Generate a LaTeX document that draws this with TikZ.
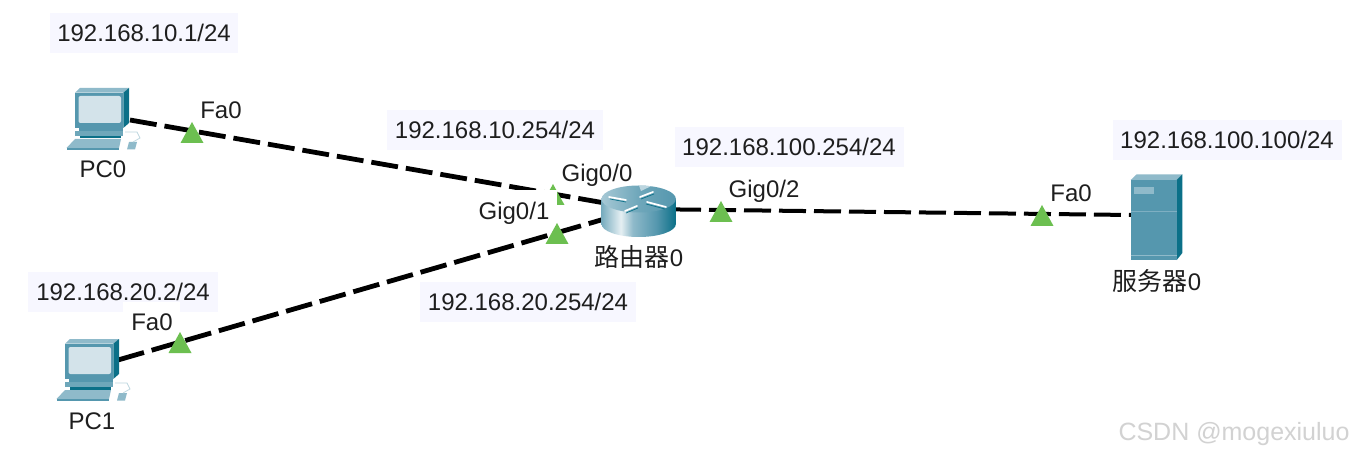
\documentclass[tikz,border=0pt]{standalone}
\usepackage{fontspec}
\setmainfont{Liberation Sans}
\newfontfamily\cjk{Noto Sans CJK SC}
\definecolor{ipbg}{HTML}{F7F7FF}
\definecolor{portgreen}{HTML}{6CBF50}
\definecolor{devfront}{HTML}{5597AE}
\definecolor{devtop}{HTML}{8FBACA}
\definecolor{devside}{HTML}{0B7088}
\definecolor{screenc}{HTML}{D3E3EA}
\definecolor{labeltext}{HTML}{1E1E1E}
\definecolor{wm}{HTML}{D2D2D2}
\pgfdeclarehorizontalshading{routerbody}{100bp}{color(0bp)=(devfront!80!white); color(25bp)=(devfront!80!white); color(38bp)=(white!85!devfront); color(46bp)=(devtop); color(62bp)=(devfront); color(75bp)=(devside); color(100bp)=(devside)}
\pgfdeclarehorizontalshading{routertop}{100bp}{color(0bp)=(devtop); color(25bp)=(devtop!80!white); color(50bp)=(devfront!85!white); color(75bp)=(devfront); color(100bp)=(devfront)}
\tikzset{
  x=1pt,y=-1pt,
  every node/.style={font=\fontsize{24}{28}\selectfont,text=labeltext,inner sep=0pt},
  device/.style={minimum width=#1,minimum height=60},
  iplabel/.style={fill=ipbg,minimum height=40,text height=17pt,text depth=0pt},
  txt/.style={anchor=base},
  whitebox/.style={fill=white},
  link/.style={line width=4.8pt,black,dash pattern=on 27pt off 8pt},
  uplink/.style={line width=4pt,black,dash pattern=on 27pt off 8pt},
  pics/port/.style={code={\fill[portgreen] (0,0) -- (11.5,21) -- (-11.5,21) -- cycle;}},
  pics/computer/.style={code={
    \fill[devtop] (0,4.7) -- (5,0) -- (54,0) -- (48.3,4.7) -- cycle;
    \fill[devside] (48.3,4.7) -- (54,0) -- (54,35) -- (48.3,40) -- cycle;
    \fill[devfront] (0,4.7) rectangle (48.3,40);
    \fill[screenc,rounded corners=2pt] (3.5,8) rectangle (46,35);
    \fill[devfront] (4,40) rectangle (48,43);
    \fill[devfront!85!white] (0,43) -- (48.3,43) -- (48.3,48) -- (0,48) -- cycle;
    \fill[devside] (5,48) rectangle (46,50.5);
    \fill[devtop] (-8.5,60) -- (0,51) -- (46,51) -- (44,60) -- cycle;
    \fill[devfront] (-8.5,60) rectangle (44,62);
    \fill[devtop] (52,61.5) -- (54,54) -- (62,54) -- (60,61.5) -- cycle;
    \draw[devtop!60!white,line width=0.8pt] (50,44) -- (62,44) -- (65,50) -- (58,54);
  }},
}
\begin{document}
\begin{tikzpicture}
\useasboundingbox (0,0) rectangle (1356,454);
\fill[white] (0,0) rectangle (1356,454);
% invisible device nodes
\node[device=55] (pc0) at (102,119) {};
\node[device=55] (pc1) at (92,370) {};
\node[device=75] (router) at (639,209) {};
\node[device=52,minimum height=88] (server) at (1157,215) {};
\coordinate (pc0port) at (130,120);
\coordinate (pc1port) at (118,360);
% connectors
\draw[link] (pc0port) -- (router.center);
\draw[link] (pc1port) -- (router.center);
\draw[uplink] (router.center) -- (server.west);
% port triangles
\pic at (192,122) {port};
\pic at (180,332) {port};
\pic at (553,184) {port};
\pic at (557,223) {port};
\pic at (721,201) {port};
\pic at (1042,205) {port};
% address boxes
\node[iplabel,minimum width=188] (ipa) at (144,33) {192.168.10.1/24};
\node[iplabel,minimum width=216] (ipb) at (495,130) {192.168.10.254/24};
\node[iplabel,minimum width=229] (ipc) at (789,147) {192.168.100.254/24};
\node[iplabel,minimum width=229] (ipd) at (1227,140) {192.168.100.100/24};
\node[iplabel,minimum width=190] (ipe) at (123,292) {192.168.20.2/24};
\node[iplabel,minimum width=216] (ipf) at (528,302) {192.168.20.254/24};
% white backing of interface labels
\fill[whitebox] (475,190) rectangle (556.5,222);
\fill[whitebox] (123,302) rectangle (180,330);
% devices
\pic at (75,88) {computer};
\pic at (65,339) {computer};
% router
\shade[shading=routerbody] (601.5,199) -- (601.5,224) arc[start angle=180,end angle=0,x radius=37.2,y radius=13] -- (675.9,199) -- cycle;
\shade[shading=routertop] (638.7,199) ellipse[x radius=37.2,y radius=13.5];
\fill[white!60!devfront] (639,185.6) -- (641,191) -- (651,186.2) -- cycle;
\draw[white,line width=1.7pt,line cap=round] (609,197) -- (626,200);
\draw[white,line width=1.7pt,line cap=round] (625,211) -- (637,206);
\draw[white,line width=1.7pt,line cap=round] (640,197) -- (653,192);
\draw[white,line width=1.7pt,line cap=round] (647,202) -- (666,207);
\draw[devside,line width=0.7pt] (610,199) -- (626,202);
\draw[devside,line width=0.7pt] (626,213) -- (638,208);
\draw[devside,line width=0.7pt] (641,199) -- (654,194);
\draw[devside,line width=0.7pt] (646,204) -- (665,209);
% server
\fill[devtop] (1130.7,180) -- (1136.7,174.3) -- (1182.3,174.3) -- (1176.7,180) -- cycle;
\fill[devside] (1176.7,180) -- (1182.3,174.3) -- (1182.3,253) -- (1176.7,260) -- cycle;
\fill[devfront] (1130.7,180) rectangle (1176.7,260);
\fill[devtop] (1134,186.7) rectangle (1154,194);
\draw[devtop!70!devfront,line width=0.6pt] (1130.7,211) -- (1176.7,211);
\draw[devtop,line width=0.8pt] (1130.7,255) -- (1176.7,255);
% labels
\node[txt] (fa0a) at (221,119) {Fa0};
\node[txt] (fa0b) at (152,330) {Fa0};
\node[txt] (fa0c) at (1071,202) {Fa0};
\node[txt] (g00) at (597,182) {Gig0/0};
\node[txt] (g01) at (514,220) {Gig0/1};
\node[txt] (g02) at (764,198) {Gig0/2};
\node[txt] (pc0l) at (103,178) {PC0};
\node[txt] (pc1l) at (92,429) {PC1};
\node[txt] (rl) at (639,266) {{\cjk\fontsize{25}{28}\selectfont 路由器}0};
\node[txt] (sl) at (1157,290) {{\cjk\fontsize{25}{28}\selectfont 服务器}0};
\node[txt,text=wm,font=\fontsize{25}{28}\selectfont] (wmk) at (1234,440) {CSDN @mogexiuluo};
\end{tikzpicture}
\end{document}
